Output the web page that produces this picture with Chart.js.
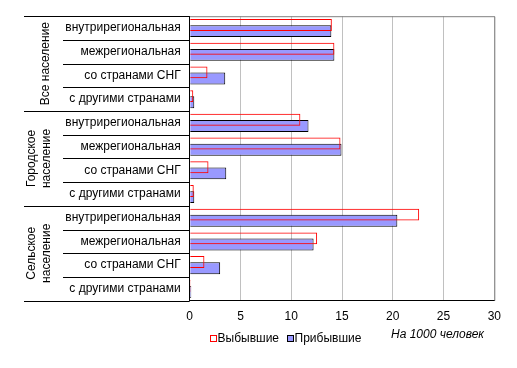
<!DOCTYPE html>
<html>
<head>
<meta charset="utf-8">
<script src="https://cdn.jsdelivr.net/npm/chart.js@4/dist/chart.umd.min.js"></script>
<style>
  html, body { margin: 0; padding: 0; background: #fff; }
  #wrap { width: 517px; height: 368px; }
</style>
</head>
<body>
<div id="wrap"><canvas id="chart" width="517" height="368"></canvas></div>
<script>
// migration flows per 1000 people
const flowTypes = ['внутрирегиональная', 'межрегиональная', 'со странами СНГ', 'с другими странами']
const groups = [['Все население'], ['Городское', 'население'], ['Сельское', 'население']]
const departed = [14.0, 14.25, 1.75, 0.35, 10.9, 14.85, 1.85, 0.4, 22.6, 12.55, 1.45, 0.1]
const arrived = [13.95, 14.25, 3.5, 0.45, 11.7, 14.95, 3.6, 0.45, 20.45, 12.2, 3.0, 0.15]
const xTicks = [0, 5, 10, 15, 20, 25, 30]
const seriesNames = ['Выбывшие', 'Прибывшие']
const unitNote = 'На 1000 человек'

const labels = []
groups.forEach(() => flowTypes.forEach(t => labels.push(t)))

const FONT = "'Liberation Sans', Arial, sans-serif"

const decor = {
  id: 'decor',
  afterDraw(chart) {
    const ctx = chart.ctx
    const area = chart.chartArea
    const n = labels.length
    const step = (area.bottom - area.top) / n

    ctx.save()
    // frame top / right
    ctx.strokeStyle = '#808080'
    ctx.lineWidth = 1
    ctx.beginPath()
    ctx.moveTo(area.left, area.top + 0.5)
    ctx.lineTo(area.right + 0.5, area.top + 0.5)
    ctx.lineTo(area.right + 0.5, area.bottom)
    ctx.stroke()

    // row separators on the left
    ctx.strokeStyle = '#000'
    for (let i = 0; i <= n; i++) {
      const y = Math.round(area.top + i * step) + 0.5
      const x0 = (i % flowTypes.length === 0) ? 24 : 63
      ctx.beginPath()
      ctx.moveTo(x0, y)
      ctx.lineTo(area.left, y)
      ctx.stroke()
    }

    // group titles, rotated
    ctx.fillStyle = '#000'
    ctx.font = '12px ' + FONT
    ctx.textAlign = 'center'
    ctx.textBaseline = 'middle'
    groups.forEach((g, gi) => {
      const cy = area.top + (gi * flowTypes.length + flowTypes.length / 2) * step
      const xs = g.length === 1 ? [46] : [32, 47]
      g.forEach((line, li) => {
        ctx.save()
        ctx.translate(xs[li], cy)
        ctx.rotate(-Math.PI / 2)
        ctx.fillText(line, 0, 0)
        ctx.restore()
      })
    })

    // legend
    const ds = chart.data.datasets
    const lx = [210.5, 287.5]
    ctx.textAlign = 'left'
    ds.forEach((d, i) => {
      ctx.fillStyle = d.backgroundColor === 'transparent' ? '#fff' : d.backgroundColor
      ctx.fillRect(lx[i], 335.5, 6, 6)
      ctx.strokeStyle = d.borderColor
      ctx.strokeRect(lx[i], 335.5, 6, 6)
      ctx.fillStyle = '#000'
      ctx.fillText(seriesNames[i], lx[i] + 7, 339)
    })

    // unit note
    ctx.font = 'italic 12px ' + FONT
    ctx.fillText(unitNote, 391, 335)
    ctx.restore()
  }
}

new Chart(document.getElementById('chart'), {
  type: 'bar',
  data: {
    labels: labels,
    datasets: [
      {
        label: seriesNames[0],
        data: departed,
        backgroundColor: 'transparent',
        borderColor: '#ff0000',
        borderWidth: 1
      },
      {
        label: seriesNames[1],
        data: arrived,
        backgroundColor: '#9999ff',
        borderColor: '#000000',
        borderWidth: 1
      }
    ]
  },
  options: {
    indexAxis: 'y',
    responsive: false,
    animation: false,
    categoryPercentage: 0.52,
    barPercentage: 1.93,
    layout: { padding: { left: 9.7, top: 15.3, right: 22.7, bottom: 45 } },
    plugins: {
      legend: { display: false },
      tooltip: { enabled: false }
    },
    scales: {
      x: {
        min: 0,
        max: 30,
        afterBuildTicks(scale) { scale.ticks = xTicks.map(v => ({ value: v })) },
        afterFit(scale) { scale.height = 22.3 },
        grid: { color: '#c0c0c0', drawTicks: false },
        border: { color: '#000', width: 1 },
        ticks: { color: '#000', padding: 9, font: { family: FONT, size: 12 } }
      },
      y: {
        afterFit(scale) { scale.width = 180 },
        grid: { drawOnChartArea: false, drawTicks: false },
        border: { color: '#000', width: 1 },
        ticks: { color: '#000', padding: 9, autoSkip: false, font: { family: FONT, size: 12 } }
      }
    }
  },
  plugins: [decor]
})
</script>
</body>
</html>
